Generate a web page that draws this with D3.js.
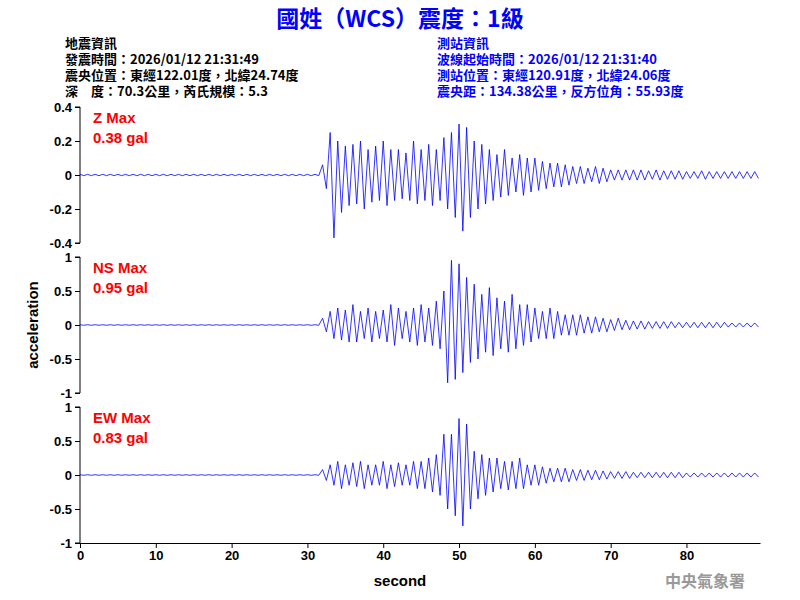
<!DOCTYPE html>
<html><head><meta charset="utf-8">
<script src="https://cdn.jsdelivr.net/npm/d3@7"></script>
<style>body{margin:0;background:#fff}text{font-family:Arial,"Liberation Sans",sans-serif}</style>
</head><body><div id="chart"></div>
<script>
// per-second peak envelopes (gal), index = second 0..89
const quiet = n => Array(n).fill(0.004);
const zMax = quiet(32).concat([0.06,0.25,0.2,0.17,0.18,0.2,0.15,0.17,0.2,0.15,0.15,0.13,0.2,0.15,0.18,0.15,0.22,0.25,0.3,0.28,0.2,0.18,0.15,0.12,0.15,0.1,0.12,0.1,0.1,0.08,0.07,0.07,0.06,0.05,0.05,0.04,0.05,0.04,0.03,0.03,0.03,0.03,0.03,0.025,0.03,0.025,0.025,0.025,0.02,0.02,0.025,0.02,0.02,0.02,0.02,0.02,0.02,0.02]);
const zMin = quiet(32).map(v=>-v).concat([-0.08,-0.37,-0.22,-0.18,-0.17,-0.2,-0.16,-0.15,-0.18,-0.15,-0.14,-0.15,-0.17,-0.15,-0.18,-0.15,-0.2,-0.25,-0.33,-0.25,-0.2,-0.17,-0.15,-0.13,-0.12,-0.1,-0.12,-0.1,-0.09,-0.08,-0.07,-0.07,-0.06,-0.05,-0.05,-0.04,-0.05,-0.04,-0.03,-0.03,-0.03,-0.03,-0.03,-0.025,-0.03,-0.025,-0.025,-0.025,-0.02,-0.02,-0.025,-0.02,-0.02,-0.02,-0.02,-0.02,-0.02,-0.02]);
const nsMax = quiet(32).concat([0.1,0.2,0.25,0.22,0.3,0.2,0.25,0.2,0.22,0.3,0.25,0.2,0.25,0.3,0.25,0.35,0.5,0.95,0.9,0.7,0.6,0.45,0.55,0.4,0.35,0.45,0.3,0.3,0.25,0.2,0.25,0.2,0.15,0.15,0.15,0.12,0.12,0.1,0.08,0.1,0.07,0.06,0.06,0.05,0.05,0.05,0.05,0.04,0.04,0.04,0.04,0.04,0.04,0.04,0.03,0.03,0.03,0.03]);
const nsMin = quiet(32).map(v=>-v).concat([-0.1,-0.2,-0.22,-0.25,-0.25,-0.2,-0.25,-0.2,-0.25,-0.3,-0.2,-0.25,-0.3,-0.25,-0.3,-0.35,-0.85,-0.8,-0.7,-0.55,-0.5,-0.4,-0.45,-0.35,-0.4,-0.35,-0.3,-0.25,-0.2,-0.2,-0.2,-0.15,-0.15,-0.15,-0.12,-0.12,-0.1,-0.1,-0.08,-0.07,-0.07,-0.06,-0.06,-0.05,-0.05,-0.05,-0.04,-0.04,-0.04,-0.04,-0.04,-0.04,-0.04,-0.03,-0.03,-0.03,-0.03,-0.03]);
const ewMax = quiet(32).concat([0.08,0.15,0.2,0.15,0.18,0.2,0.15,0.15,0.2,0.15,0.18,0.15,0.2,0.2,0.25,0.3,0.6,0.6,0.83,0.75,0.35,0.3,0.25,0.25,0.2,0.2,0.25,0.15,0.15,0.12,0.1,0.1,0.1,0.08,0.08,0.07,0.07,0.06,0.05,0.05,0.05,0.04,0.04,0.04,0.04,0.04,0.04,0.04,0.03,0.03,0.03,0.03,0.03,0.03,0.03,0.03,0.03,0.03]);
const ewMin = quiet(32).map(v=>-v).concat([-0.08,-0.15,-0.2,-0.15,-0.17,-0.2,-0.15,-0.15,-0.2,-0.17,-0.15,-0.15,-0.2,-0.2,-0.25,-0.3,-0.5,-0.6,-0.75,-0.5,-0.35,-0.3,-0.25,-0.2,-0.22,-0.2,-0.2,-0.15,-0.15,-0.12,-0.1,-0.1,-0.1,-0.08,-0.08,-0.07,-0.07,-0.06,-0.05,-0.05,-0.05,-0.04,-0.04,-0.04,-0.04,-0.04,-0.04,-0.04,-0.03,-0.03,-0.03,-0.03,-0.03,-0.03,-0.03,-0.03,-0.03,-0.03]);
const xTicks = [0,10,20,30,40,50,60,70,80];
const panels = [
  {label:"Z Max", peak:"0.38 gal", hi:zMax, lo:zMin, dom:[-0.4,0.4], ticks:[-0.4,-0.2,0,0.2,0.4]},
  {label:"NS Max", peak:"0.95 gal", hi:nsMax, lo:nsMin, dom:[-1,1], ticks:[-1,-0.5,0,0.5,1]},
  {label:"EW Max", peak:"0.83 gal", hi:ewMax, lo:ewMin, dom:[-1,1], ticks:[-1,-0.5,0,0.5,1]}
];
const leftInfo = ["地震資訊","發震時間：2026/01/12 21:31:49","震央位置：東經122.01度，北緯24.74度","深　度：70.3公里，芮氏規模：5.3"];
const rightInfo = ["測站資訊","波線起始時間：2026/01/12 21:31:40","測站位置：東經120.91度，北緯24.06度","震央距：134.38公里，反方位角：55.93度"];

const svg = d3.select("#chart").append("svg").attr("width",800).attr("height",600);
svg.append("text").attr("x",400).attr("y",27).attr("text-anchor","middle")
  .attr("fill","#0000ff").style("font-size","23px").style("font-weight","bold")
  .style("font-family","'Noto Sans CJK TC',sans-serif").text("國姓（WCS）震度：1級");
const info = (arr, x, col) => arr.forEach((t,i)=>svg.append("text").attr("x",x).attr("y",48+i*16)
  .attr("fill",col).style("font-size","13px").style("font-weight","bold")
  .style("font-family","'Noto Sans CJK TC',sans-serif").text(t));
info(leftInfo, 65, "#000");
info(rightInfo, 437, "#0000ff");

const fmt = d => String(d);
const x = d3.scaleLinear().domain([0,89.7]).range([80,760]);
const tops = [107,257,407], h = 136;
panels.forEach((p,k)=>{
  const y = d3.scaleLinear().domain(p.dom).range([tops[k]+h, tops[k]]);
  svg.append("g").attr("transform","translate(80,0)")
    .call(d3.axisLeft(y).tickValues(p.ticks).tickSize(5).tickFormat(fmt))
    .call(g=>g.selectAll("text").style("font-size","13px").style("font-weight","bold"))
    .call(g=>g.select(".domain").attr("d",`M-5,${y(p.dom[0])}H0V${y(p.dom[1])}H-5`));
  const pts = [];
  p.hi.forEach((v,i)=>{ pts.push([i, v]); pts.push([i+0.5, p.lo[i]]); });
  svg.append("path").datum(pts)
    .attr("d", d3.line().x(d=>x(d[0])).y(d=>y(d[1])))
    .attr("fill","none").attr("stroke","#0000ff").attr("stroke-width",0.8);
  svg.append("text").attr("x",93).attr("y",tops[k]+16).attr("fill","#ff0000")
    .style("font-size","15px").style("font-weight","bold").text(p.label);
  svg.append("text").attr("x",93).attr("y",tops[k]+36).attr("fill","#ff0000")
    .style("font-size","15px").style("font-weight","bold").text(p.peak);
});
svg.append("g").attr("transform","translate(0,543)")
  .call(d3.axisBottom(x).tickValues(xTicks).tickSize(5).tickSizeOuter(0))
  .call(g=>g.selectAll("text").style("font-size","13px").style("font-weight","bold"));
svg.append("text").attr("x",400).attr("y",586).attr("text-anchor","middle")
  .style("font-size","15px").style("font-weight","bold").text("second");
svg.append("text").attr("transform","translate(38,325) rotate(-90)").attr("text-anchor","middle")
  .style("font-size","15px").style("font-weight","bold").text("acceleration");
svg.append("text").attr("x",745).attr("y",587).attr("text-anchor","end").attr("fill","#999")
  .style("font-size","16px").style("font-weight","bold")
  .style("font-family","'Noto Sans CJK TC',serif").text("中央氣象署");
</script></body></html>
